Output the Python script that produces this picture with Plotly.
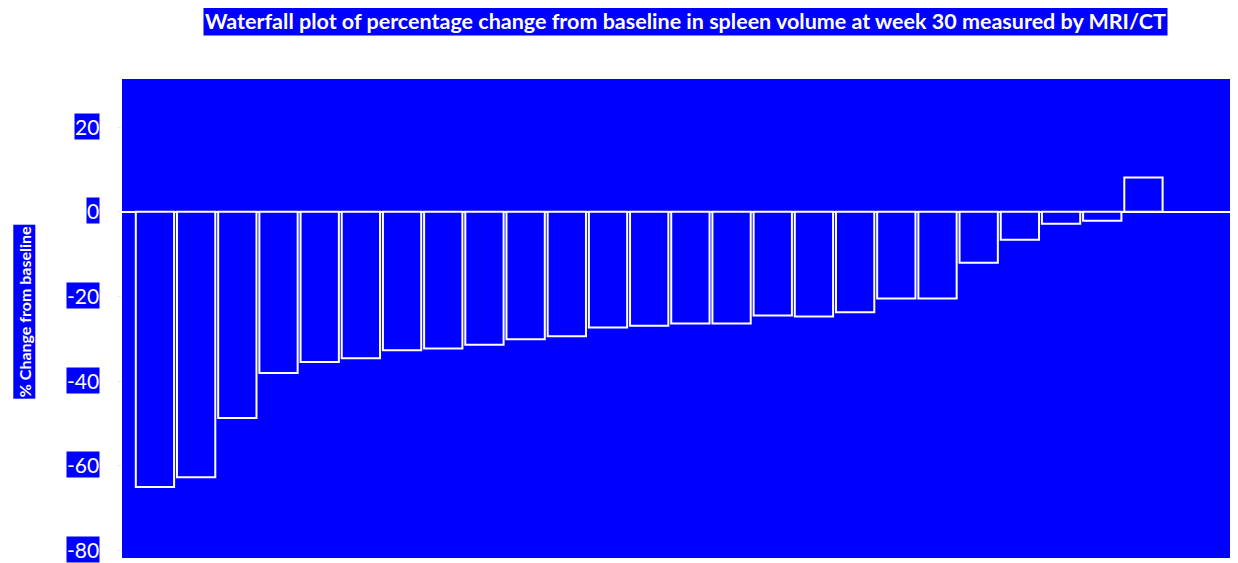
import plotly.graph_objects as go

patients = list(range(1, 26))
pct_change = [-65.0, -62.7, -48.7, -38.1, -35.5, -34.6, -32.7, -32.3, -31.4, -30.1,
              -29.4, -27.3, -26.9, -26.4, -26.4, -24.5, -24.7, -23.7, -20.5, -20.5,
              -12.0, -6.6, -2.8, -2.1, 8.1]
y_ticks = [20, 0, -20, -40, -60, -80]
y_tick_labels = ["20", "0", "-20", "-40", "-60", "-80"]
title_text = "Waterfall plot of percentage change from baseline in spleen volume at week 30 measured by MRI/CT"
y_title = "% Change from baseline"

BLUE = "#0000FF"
# page body has an 8px margin; figure is offset by (8, 8)
OFF = 8
PLOT_LEFT = 121.5 - OFF
PLOT_TOP = 79.3 - OFF

fig = go.Figure()
fig.add_trace(go.Bar(
    x=patients, y=pct_change,
    marker=dict(color=BLUE, line=dict(color="white", width=2)),
    width=0.93,
    hoverinfo="x+y",
))

fig.update_layout(
    width=1238, height=555,
    margin=dict(l=PLOT_LEFT, r=0, t=PLOT_TOP, b=5.3),
    paper_bgcolor="white",
    plot_bgcolor=BLUE,
    showlegend=False,
    xaxis=dict(range=[0.2, 27.49], showgrid=False, zeroline=False,
               showticklabels=False, ticks=""),
    yaxis=dict(range=[-81.8, 31.4], showgrid=False, zeroline=True,
               zerolinecolor="white", zerolinewidth=2,
               showticklabels=False, tickvals=y_ticks,
               ticks="outside", ticklen=3, tickcolor="#E6E6F8"),
)

for v, lab in zip(y_ticks, y_tick_labels):
    fig.add_annotation(
        x=0, xref="paper", y=v, yref="y", text=lab, showarrow=False,
        xanchor="right", yanchor="middle", xshift=-22, yshift=1,
        font=dict(family="Lato", size=21, color="white"),
        bgcolor=BLUE, borderpad=0,
    )

fig.add_annotation(
    x=0, xref="paper", xshift=23.5 - 121.5, xanchor="center",
    y=1, yref="paper", yshift=-(312.5 - 79.3), yanchor="middle",
    text="<b>" + y_title + "</b>", showarrow=False, textangle=-90,
    font=dict(family="Lato", size=16, color="white"),
    bgcolor=BLUE, borderpad=1,
)

fig.add_annotation(
    x=0, xref="paper", xshift=685 - 121.5, xanchor="center",
    y=1, yref="paper", yshift=58, yanchor="middle",
    text="<b>" + title_text + "</b>", showarrow=False,
    font=dict(family="Lato", size=21.5, color="white"),
    bgcolor=BLUE, borderpad=1,
)

fig.write_html("out.html")
